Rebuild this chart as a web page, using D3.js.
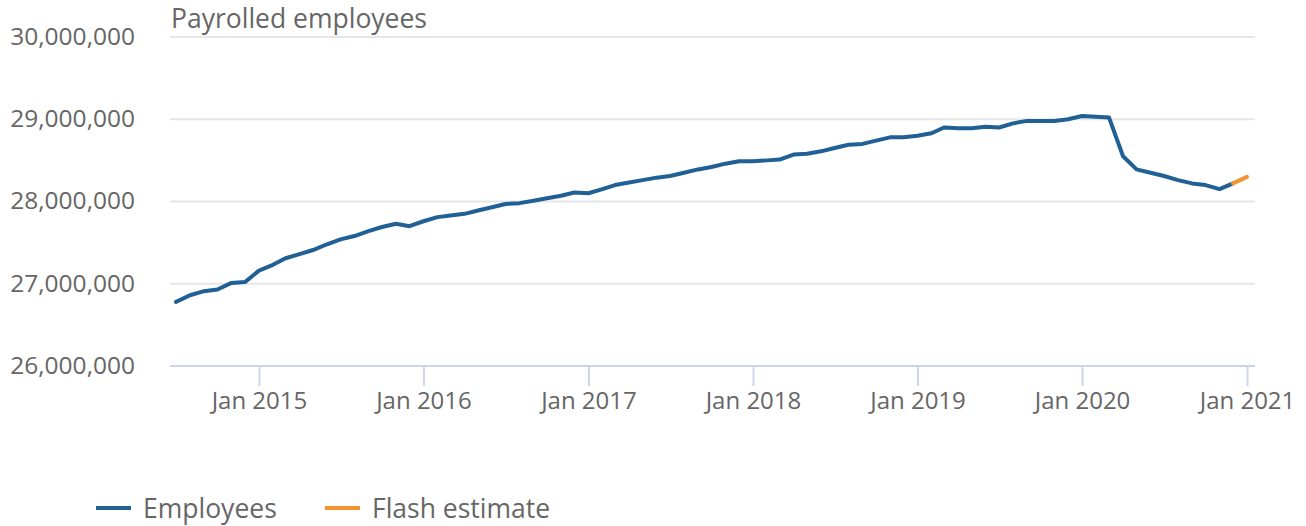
<!DOCTYPE html>
<html>
<head>
<meta charset="utf-8">
<script src="https://cdn.jsdelivr.net/npm/d3@7"></script>
<style>
  html, body { margin: 0; padding: 0; background: #fff; }
  svg { display: block; font-family: "Open Sans", sans-serif; }
</style>
</head>
<body>
<svg id="chart" width="1306" height="526"></svg>
<script>
// ---- data ----
const startMonth = "2014-07";
const employees = [
  26.78, 26.86, 26.91, 26.93, 27.01, 27.02,
  27.16, 27.23, 27.31, 27.36, 27.41, 27.48, 27.54, 27.58, 27.64, 27.69, 27.73, 27.70,
  27.76, 27.81, 27.83, 27.85, 27.89, 27.93, 27.97, 27.98, 28.01, 28.04, 28.07, 28.11,
  28.10, 28.15, 28.20, 28.23, 28.26, 28.29, 28.31, 28.35, 28.39, 28.42, 28.46, 28.49,
  28.49, 28.50, 28.51, 28.57, 28.58, 28.61, 28.65, 28.69, 28.70, 28.74, 28.78, 28.78,
  28.80, 28.83, 28.90, 28.89, 28.89, 28.91, 28.90, 28.95, 28.98, 28.98, 28.98, 29.00,
  29.04, 29.03, 29.02, 28.55, 28.39, 28.35, 28.31, 28.26, 28.22, 28.20, 28.15, 28.22
].map(v => v * 1e6);
const flashMonths = ["2020-12", "2021-01"];
const flashValues = [28.22, 28.30].map(v => v * 1e6);
const yTicks = [26000000, 27000000, 28000000, 29000000, 30000000];
const xTickYears = [2015, 2016, 2017, 2018, 2019, 2020, 2021];
const title = "Payrolled employees";
const seriesNames = ["Employees", "Flash estimate"];
const colors = ["#206095", "#f39431"];

// ---- setup ----
const parse = d3.timeParse("%Y-%m");
const t0 = parse(startMonth);
const empData = employees.map((v, i) => ({ date: d3.timeMonth.offset(t0, i), value: v }));
const flashData = flashValues.map((v, i) => ({ date: parse(flashMonths[i]), value: v }));

const svg = d3.select("#chart");
const plotLeft = 170, plotRight = 1255;
const x = d3.scaleTime()
  .domain([t0, parse("2021-01")])
  .range([176, 1247]);
const y = d3.scaleLinear().domain([26000000, 30000000]).range([366, 37]);

const textColor = "#666666";
const fmt = d3.format(",");

// gridlines
svg.append("g")
  .selectAll("line")
  .data(yTicks.filter(d => d !== 26000000))
  .join("line")
  .attr("x1", plotLeft).attr("x2", plotRight)
  .attr("y1", d => y(d)).attr("y2", d => y(d))
  .attr("stroke", "#e6e6e6").attr("stroke-width", 2);

// y axis labels
const yAxis = d3.axisLeft(y).tickValues(yTicks).tickFormat(fmt).tickSize(0).tickPadding(0);
const yg = svg.append("g").attr("transform", "translate(135,0)").call(yAxis);
yg.select(".domain").remove();
yg.selectAll("text")
  .attr("fill", textColor)
  .style("font-size", "24.5px")
  .style("font-family", "'Open Sans', sans-serif")
  .attr("dy", "0.3em");

// x axis
const xAxis = d3.axisBottom(x)
  .tickValues(xTickYears.map(yr => new Date(yr, 0, 1)))
  .tickFormat(d3.timeFormat("Jan %Y"))
  .tickSize(20).tickPadding(3);
const xg = svg.append("g").attr("transform", `translate(0,${y(26000000)})`).call(xAxis);
xg.select(".domain").remove();
xg.append("line")
  .attr("x1", plotLeft).attr("x2", plotRight)
  .attr("y1", 0).attr("y2", 0)
  .attr("stroke", "#ccd6eb").attr("stroke-width", 2);
xg.selectAll(".tick line").attr("stroke", "#ccd6eb").attr("stroke-width", 2);
xg.selectAll("text")
  .attr("fill", textColor)
  .style("font-size", "24px")
  .style("font-family", "'Open Sans', sans-serif")
  .attr("dy", "0.85em");

// title
svg.append("text")
  .attr("x", 171).attr("y", 28)
  .attr("fill", textColor)
  .style("font-size", "26.5px")
  .text(title);

// lines
const line = d3.line().x(d => x(d.date)).y(d => y(d.value));
svg.append("path").datum(empData)
  .attr("d", line).attr("fill", "none")
  .attr("stroke", colors[0]).attr("stroke-width", 4)
  .attr("stroke-linejoin", "round").attr("stroke-linecap", "round");
svg.append("path").datum(flashData)
  .attr("d", line).attr("fill", "none")
  .attr("stroke", colors[1]).attr("stroke-width", 4)
  .attr("stroke-linejoin", "round").attr("stroke-linecap", "round");

// legend
const legendItems = [
  { name: seriesNames[0], color: colors[0], x: 96 },
  { name: seriesNames[1], color: colors[1], x: 325 }
];
const lg = svg.append("g").attr("transform", "translate(0,508)");
const li = lg.selectAll("g").data(legendItems).join("g")
  .attr("transform", d => `translate(${d.x},0)`);
li.append("line").attr("x1", 0).attr("x2", 35).attr("y1", 0).attr("y2", 0)
  .attr("stroke", d => d.color).attr("stroke-width", 4);
li.append("text").attr("x", 47).attr("y", 0).attr("dy", "0.36em")
  .attr("fill", textColor).style("font-size", "26.5px")
  .text(d => d.name);
</script>
</body>
</html>
